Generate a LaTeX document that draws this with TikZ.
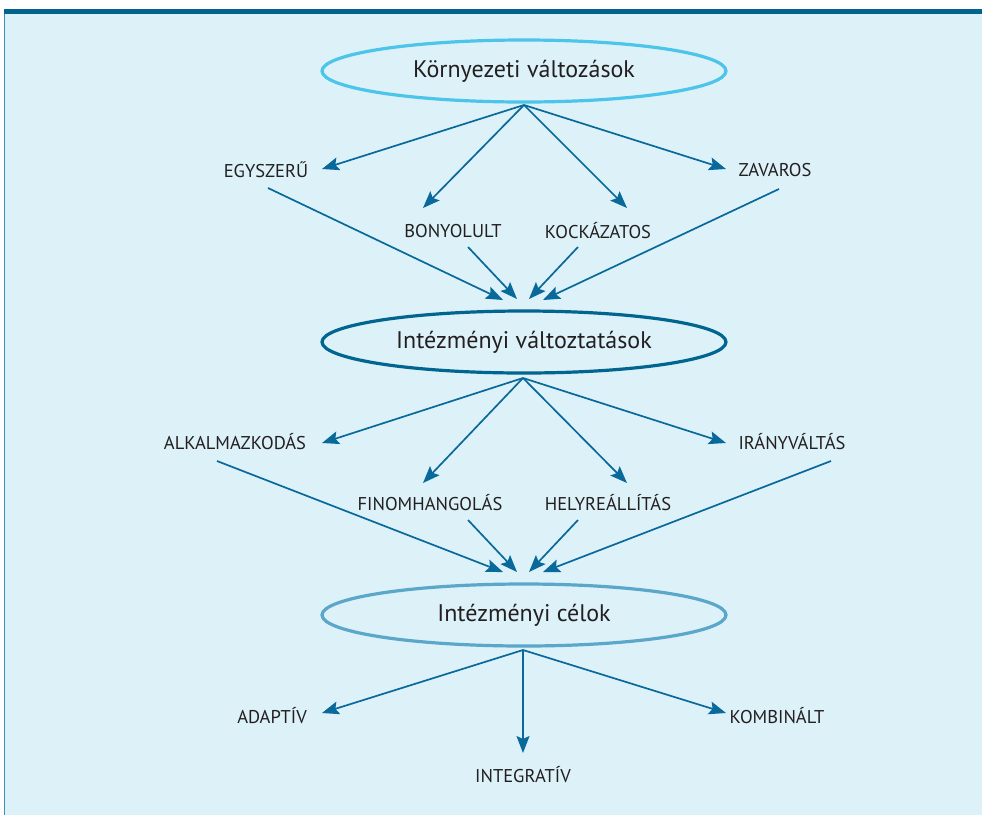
\documentclass[tikz,border=0pt]{standalone}
\usepackage{fontspec}
\setmainfont{PT Sans}
\usetikzlibrary{shapes.geometric,arrows.meta}
\definecolor{bgfill}{HTML}{DDF1F9}
\definecolor{barblue}{HTML}{00648F}
\definecolor{edgeblue}{HTML}{3F8FB8}
\definecolor{ringcyan}{HTML}{4DC4EA}
\definecolor{ringdark}{HTML}{00658F}
\definecolor{ringmid}{HTML}{5AA7C9}
\definecolor{arrowblue}{HTML}{08699A}
\definecolor{inktext}{HTML}{231F20}
\tikzset{
  ring/.style={ellipse, draw, line width=3.2pt, inner sep=0pt,
    minimum width=404pt, minimum height=62pt, text=inktext, font=\fontsize{24}{28}\selectfont},
  lbl/.style={inner sep=0pt, text=inktext, font=\fontsize{18.5}{21}\selectfont},
  arr/.style={draw=arrowblue, line width=1.7pt,
    -{Stealth[length=17pt,width=13pt,inset=3pt]}},
}
\begin{document}
\begin{tikzpicture}[x=1pt,y=-1pt]
  % panel
  \useasboundingbox (0,0) rectangle (982,815);
  \fill[white] (0,0) rectangle (982,815);
  \fill[bgfill] (4,14) rectangle (982,815);
  \draw[edgeblue, line width=1pt] (4.5,14) -- (4.5,815);
  \fill[barblue] (4,9) rectangle (982,14);

  % ellipses
  \node[ring, draw=ringcyan] (env) at (524,71) {Környezeti változások};
  \node[ring, draw=ringdark] (chg) at (524,342) {Intézményi változtatások};
  \node[ring, draw=ringmid] (goal) at (524,615) {Intézményi célok};

  % first tier labels
  \node[lbl] (egy) at (266,170) {EGYSZERŰ};
  \node[lbl] (bony) at (453,231) {BONYOLULT};
  \node[lbl] (kock) at (598,231) {KOCKÁZATOS};
  \node[lbl] (zav) at (775,170) {ZAVAROS};

  % second tier labels
  \node[lbl] (alk) at (235,442) {ALKALMAZKODÁS};
  \node[lbl] (fin) at (430,503) {FINOMHANGOLÁS};
  \node[lbl] (hely) at (608,503) {HELYREÁLLÍTÁS};
  \node[lbl] (irany) at (792,442) {IRÁNYVÁLTÁS};

  % third tier labels
  \node[lbl] (adap) at (272,716) {ADAPTÍV};
  \node[lbl] (integ) at (523,775) {INTEGRATÍV};
  \node[lbl] (komb) at (777,716) {KOMBINÁLT};

  % fan-out points below the ellipses
  \coordinate (envO) at (524,105);
  \coordinate (chgO) at (523,378);
  \coordinate (goalO) at (523,650);

  % arrow end points near the labels
  \coordinate (egyIn) at (322,169);
  \coordinate (bonyIn) at (423,208);
  \coordinate (kockIn) at (627,208);
  \coordinate (zavIn) at (726,169);
  \coordinate (egyOut) at (268,188);
  \coordinate (bonyOut) at (468,247);
  \coordinate (kockOut) at (578,247);
  \coordinate (zavOut) at (779,189);
  \coordinate (chgA) at (503,300);
  \coordinate (chgB) at (517,299);
  \coordinate (chgC) at (529,299);
  \coordinate (chgD) at (543,300);

  \coordinate (alkIn) at (322,443);
  \coordinate (finIn) at (423,483);
  \coordinate (helyIn) at (627,483);
  \coordinate (iranyIn) at (726,443);
  \coordinate (alkOut) at (217,461);
  \coordinate (finOut) at (468,520);
  \coordinate (helyOut) at (578,520);
  \coordinate (iranyOut) at (831,461);
  \coordinate (goalA) at (503,572);
  \coordinate (goalB) at (517,572);
  \coordinate (goalC) at (529,572);
  \coordinate (goalD) at (543,572);

  \coordinate (adapIn) at (322,713);
  \coordinate (integIn) at (523,753);
  \coordinate (kombIn) at (726,713);

  % environment -> categories
  \draw[arr] (envO) -- (egyIn);
  \draw[arr] (envO) -- (bonyIn);
  \draw[arr] (envO) -- (kockIn);
  \draw[arr] (envO) -- (zavIn);
  \draw[arr] (egyOut) -- (chgA);
  \draw[arr] (bonyOut) -- (chgB);
  \draw[arr] (kockOut) -- (chgC);
  \draw[arr] (zavOut) -- (chgD);

  % changes -> types
  \draw[arr] (chgO) -- (alkIn);
  \draw[arr] (chgO) -- (finIn);
  \draw[arr] (chgO) -- (helyIn);
  \draw[arr] (chgO) -- (iranyIn);
  \draw[arr] (alkOut) -- (goalA);
  \draw[arr] (finOut) -- (goalB);
  \draw[arr] (helyOut) -- (goalC);
  \draw[arr] (iranyOut) -- (goalD);

  % goals -> outcomes
  \draw[arr] (goalO) -- (adapIn);
  \draw[arr] (goalO) -- (integIn);
  \draw[arr] (goalO) -- (kombIn);
\end{tikzpicture}
\end{document}
